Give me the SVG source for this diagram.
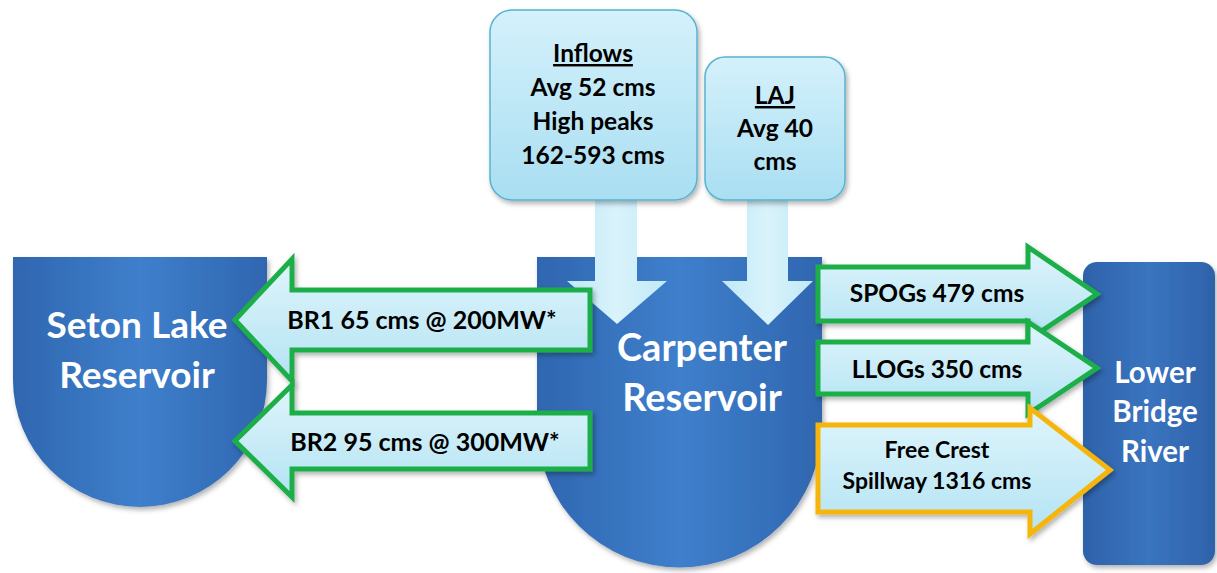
<svg xmlns="http://www.w3.org/2000/svg" width="1217" height="573" viewBox="0 0 1217 573">
  <defs>
    <linearGradient id="blueBody" x1="0" y1="0" x2="1" y2="0">
      <stop offset="0" stop-color="#2f66b0"/>
      <stop offset="0.5" stop-color="#3f7fcb"/>
      <stop offset="1" stop-color="#2f66b0"/>
    </linearGradient>
    <linearGradient id="riverBody" x1="0" y1="0" x2="1" y2="0">
      <stop offset="0" stop-color="#2e62aa"/>
      <stop offset="0.5" stop-color="#3a74bf"/>
      <stop offset="1" stop-color="#2e62aa"/>
    </linearGradient>
    <linearGradient id="paleH" x1="0" y1="0" x2="0" y2="1">
      <stop offset="0" stop-color="#dff5fc"/>
      <stop offset="1" stop-color="#b3e3f3"/>
    </linearGradient>
    <linearGradient id="paleV" x1="0" y1="0" x2="1" y2="0">
      <stop offset="0" stop-color="#bfe9f7"/>
      <stop offset="0.5" stop-color="#d9f3fb"/>
      <stop offset="1" stop-color="#bfe9f7"/>
    </linearGradient>
    <linearGradient id="boxFill" x1="0" y1="0" x2="0" y2="1">
      <stop offset="0" stop-color="#d4f1fb"/>
      <stop offset="1" stop-color="#a9def2"/>
    </linearGradient>
    <filter id="shadow" x="-10%" y="-10%" width="125%" height="130%">
      <feDropShadow dx="2" dy="3" stdDeviation="2.5" flood-color="#000" flood-opacity="0.3"/>
    </filter>
  </defs>
  <style>
    .lbl { font-family: Lato, "Open Sans", "DejaVu Sans", sans-serif; font-weight: 700; fill: #000; text-anchor: middle; }
    .title { font-family: Lato, "Open Sans", "DejaVu Sans", sans-serif; font-weight: 700; fill: #fff; text-anchor: middle; }
    .res { fill: url(#blueBody); filter: url(#shadow); }
    .box { fill: url(#boxFill); stroke: #58b3cf; stroke-width: 1.5; filter: url(#shadow); }
    .flow { fill: url(#paleH); stroke-width: 5; stroke-linejoin: miter; filter: url(#shadow); }
    .green { stroke: #1fae4a; }
    .amber { stroke: #f6b508; }
    .down { fill: url(#paleV); }
  </style>

  <rect width="1217" height="573" fill="#ffffff"/>

  <!-- reservoirs and river -->
  <g id="seton-lake">
    <path class="res" d="M13,257 H267 V380 A127,127 0 0 1 13,380 Z"/>
    <text class="title" x="137" y="338" font-size="37">Seton Lake</text>
    <text class="title" x="137" y="388" font-size="37">Reservoir</text>
  </g>

  <g id="carpenter">
    <path class="res" d="M537,257 H822 V425 A142.5,142.5 0 0 1 537,425 Z"/>
  </g>

  <g id="lower-bridge">
    <rect x="1083" y="262" width="132" height="303" rx="14" fill="url(#riverBody)" filter="url(#shadow)"/>
    <text class="title" x="1155" y="383" font-size="29.5">Lower</text>
    <text class="title" x="1155" y="422" font-size="29.5">Bridge</text>
    <text class="title" x="1155" y="462" font-size="29.5">River</text>
  </g>

  <!-- flow connectors -->
  <g id="connectors">
    <path class="down" d="M595,198 H637 V281 H667 L617,324 L567,281 H595 Z"/>
    <path class="down" d="M747,198 H788 V281 H813 L768,325 L722,281 H747 Z"/>

    <path class="flow green" d="M235,320 L292,259 V290 H590 V350 H292 V381 Z"/>
    <path class="flow green" d="M235,441 L292,385 V413 H590 V469 H292 V497 Z"/>

    <path class="flow green" d="M818,267 H1028 V247 L1097,294 L1028,340 V321 H818 Z"/>
    <path class="flow green" d="M818,342 H1028 V322 L1097,368 L1028,414 V394 H818 Z"/>
    <path class="flow amber" d="M818,425 H1030 V408 L1110,470 L1030,534 V512 H818 Z"/>

    <text class="lbl" x="422" y="329" font-size="25">BR1 65 cms @ 200MW*</text>
    <text class="lbl" x="425" y="451" font-size="25">BR2 95 cms @ 300MW*</text>
    <text class="lbl" x="937" y="302" font-size="24.5">SPOGs 479 cms</text>
    <text class="lbl" x="937" y="378" font-size="24.5">LLOGs 350 cms</text>
    <text class="lbl" x="937" y="458" font-size="23">Free Crest</text>
    <text class="lbl" x="937" y="489" font-size="23">Spillway 1316 cms</text>
  </g>

  <g id="carpenter-label">
    <text class="title" x="702" y="361" font-size="38">Carpenter</text>
    <text class="title" x="702" y="411" font-size="38">Reservoir</text>
  </g>

  <!-- inflow sources -->
  <g id="inflows">
    <rect class="box" x="490" y="10" width="207" height="190" rx="22"/>
    <text class="lbl" x="593" y="62" font-size="24.5" text-decoration="underline">Inflows</text>
    <text class="lbl" x="593" y="96" font-size="24.5">Avg 52 cms</text>
    <text class="lbl" x="593" y="130" font-size="24.5">High peaks</text>
    <text class="lbl" x="593" y="164" font-size="24.5">162-593 cms</text>
  </g>

  <g id="laj">
    <rect class="box" x="705" y="57" width="140" height="143" rx="20"/>
    <text class="lbl" x="775" y="104" font-size="24.5" text-decoration="underline">LAJ</text>
    <text class="lbl" x="775" y="137" font-size="24.5">Avg 40</text>
    <text class="lbl" x="775" y="170" font-size="24.5">cms</text>
  </g>
</svg>
